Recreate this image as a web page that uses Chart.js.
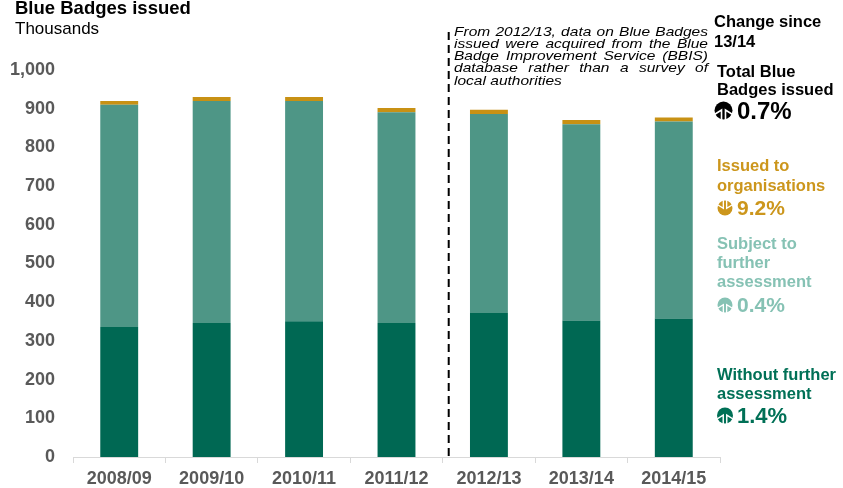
<!DOCTYPE html>
<html>
<head>
<meta charset="utf-8">
<script src="https://cdn.jsdelivr.net/npm/chart.js@4.4.1/dist/chart.umd.min.js"></script>
<style>
  html, body { margin: 0; padding: 0; background: #ffffff; }
  #wrap { width: 843px; height: 488px; position: relative; }
</style>
</head>
<body>
<div id="wrap"><canvas id="c" width="843" height="488"></canvas></div>
<script>
// ---- data ----
const categories = ['2008/09', '2009/10', '2010/11', '2011/12', '2012/13', '2013/14', '2014/15'];
const withoutFurtherAssessment = [336, 346, 351, 346, 372, 353, 358];
const subjectToFurtherAssessment = [574, 574, 569, 545, 514, 507, 509];
const issuedToOrganisations = [10, 10, 10, 11, 11, 11, 10];
const yTicks = [0, 100, 200, 300, 400, 500, 600, 700, 800, 900, 1000];

const titleText = 'Blue Badges issued';
const subtitleText = 'Thousands';
const noteLines = [
  'From 2012/13, data on Blue Badges',
  'issued were acquired from the Blue',
  'Badge Improvement Service (BBIS)',
  'database rather than a survey of',
  'local authorities'
];
const changeHeader = ['Change since', '13/14'];
const changeItems = [
  { label: ['Total Blue', 'Badges issued'], value: '0.7%', up: true },
  { label: ['Issued to', 'organisations'], value: '9.2%', up: false },
  { label: ['Subject to', 'further', 'assessment'], value: '0.4%', up: true },
  { label: ['Without further', 'assessment'], value: '1.4%', up: true }
];

// ---- styles ----
const COL_DARK = '#006853';
const COL_MID = '#4E9686';
const COL_ORG = '#C89114';
const FONT = '"Liberation Sans", Arial, sans-serif';
const GREY = '#595959';

function drawIcon(ctx, cx, cy, r, color, up) {
  ctx.save();
  ctx.fillStyle = color;
  ctx.beginPath();
  ctx.arc(cx, cy, r, 0, Math.PI * 2);
  ctx.fill();
  ctx.strokeStyle = '#ffffff';
  ctx.lineWidth = Math.max(1.2, r * 0.18);
  ctx.lineJoin = 'miter';
  const s = up ? 1 : -1;
  ctx.beginPath();
  ctx.moveTo(cx - r * 1.1, cy + s * r * 0.5);
  ctx.lineTo(cx - r * 0.22, cy - s * r * 0.05);
  ctx.lineTo(cx - r * 0.22, cy + s * r * 1.1);
  ctx.moveTo(cx + r * 1.1, cy + s * r * 0.5);
  ctx.lineTo(cx + r * 0.22, cy - s * r * 0.05);
  ctx.lineTo(cx + r * 0.22, cy + s * r * 1.1);
  ctx.stroke();
  ctx.restore();
}

const decorPlugin = {
  id: 'decor',
  afterDraw(chart) {
    const ctx = chart.ctx;
    const xs = chart.scales.x;
    const area = chart.chartArea;
    ctx.save();
    // title
    ctx.fillStyle = '#000000';
    ctx.textAlign = 'left';
    ctx.textBaseline = 'alphabetic';
    ctx.font = 'bold 18.5px ' + FONT;
    ctx.fillText(titleText, 15, 14);
    ctx.font = '17px ' + FONT;
    ctx.fillText(subtitleText, 15, 34);

    // dashed separator between 2011/12 and 2012/13
    const xSep = (xs.getPixelForValue(3) + xs.getPixelForValue(4)) / 2 + 6;
    ctx.strokeStyle = '#000000';
    ctx.lineWidth = 2;
    ctx.setLineDash([8, 5]);
    ctx.beginPath();
    ctx.moveTo(xSep, 32);
    ctx.lineTo(xSep, area.bottom);
    ctx.stroke();
    ctx.setLineDash([]);

    // note (justified italic, slightly widened)
    const sx = 1.15;
    const noteLeft = 454, noteWidth = 254;
    ctx.font = 'italic 13.5px ' + FONT;
    ctx.fillStyle = '#000000';
    noteLines.forEach((line, i) => {
      const y = 35.5 + i * 12.3;
      const words = line.split(' ');
      ctx.save();
      ctx.translate(noteLeft, y);
      ctx.scale(sx, 1);
      if (i === noteLines.length - 1) {
        ctx.fillText(line, 0, 0);
      } else {
        const total = words.reduce((a, w) => a + ctx.measureText(w).width, 0);
        const gap = (noteWidth / sx - total) / (words.length - 1);
        let x = 0;
        words.forEach(w => { ctx.fillText(w, x, 0); x += ctx.measureText(w).width + gap; });
      }
      ctx.restore();
    });

    // right panel
    ctx.font = 'bold 16.5px ' + FONT;
    ctx.fillStyle = '#000000';
    ctx.fillText(changeHeader[0], 714, 27);
    ctx.fillText(changeHeader[1], 714, 47);

    const panel = [
      { color: '#000000', lines: [77, 95], val: 119, size: 24, icon: [723.5, 110.5, 9] },
      { color: '#CC961C', lines: [171, 191], val: 215, size: 21, icon: [725, 208, 7.5] },
      { color: '#86C2B4', lines: [249, 268, 287], val: 312, size: 21, icon: [725, 305, 7.5] },
      { color: '#007056', lines: [380, 399], val: 423, size: 22, icon: [725, 415.5, 8] }
    ];
    changeItems.forEach((item, k) => {
      const p = panel[k];
      ctx.fillStyle = p.color;
      ctx.font = 'bold 16.5px ' + FONT;
      item.label.forEach((t, j) => ctx.fillText(t, 717, p.lines[j]));
      drawIcon(ctx, p.icon[0], p.icon[1], p.icon[2], p.color, item.up);
      ctx.fillStyle = p.color;
      ctx.font = 'bold ' + p.size + 'px ' + FONT;
      ctx.fillText(item.value, 737, p.val);
    });
    ctx.restore();
  }
};

new Chart(document.getElementById('c'), {
  type: 'bar',
  data: {
    labels: categories,
    datasets: [
      { label: 'Without further assessment', data: withoutFurtherAssessment, backgroundColor: COL_DARK },
      { label: 'Subject to further assessment', data: subjectToFurtherAssessment, backgroundColor: COL_MID },
      { label: 'Issued to organisations', data: issuedToOrganisations, backgroundColor: COL_ORG }
    ]
  },
  options: {
    responsive: false,
    animation: false,
    devicePixelRatio: 1,
    categoryPercentage: 1,
    barPercentage: 0.41,
    layout: { padding: { top: 70, right: 123, left: 0, bottom: 0 } },
    plugins: { legend: { display: false }, tooltip: { enabled: false }, title: { display: false } },
    scales: {
      x: {
        stacked: true,
        grid: { display: true, drawOnChartArea: false, drawTicks: true, tickLength: 6, color: '#D9D9D9', offset: true },
        border: { display: true, color: '#D9D9D9', width: 1 },
        ticks: { font: { family: FONT, size: 18, weight: 'bold' }, color: GREY, padding: 5, maxRotation: 0, autoSkip: false },
        afterFit: s => { s.height = 31; }
      },
      y: {
        stacked: true,
        min: 0,
        max: 1000,
        afterBuildTicks: s => { s.ticks = yTicks.map(v => ({ value: v })); },
        grid: { display: false, drawTicks: false },
        border: { display: false },
        ticks: {
          font: { family: FONT, size: 18, weight: 'bold' }, color: GREY, padding: 18,
          callback: v => v.toLocaleString('en-GB')
        },
        afterFit: s => { s.width = 73; }
      }
    }
  },
  plugins: [decorPlugin]
});
</script>
</body>
</html>
